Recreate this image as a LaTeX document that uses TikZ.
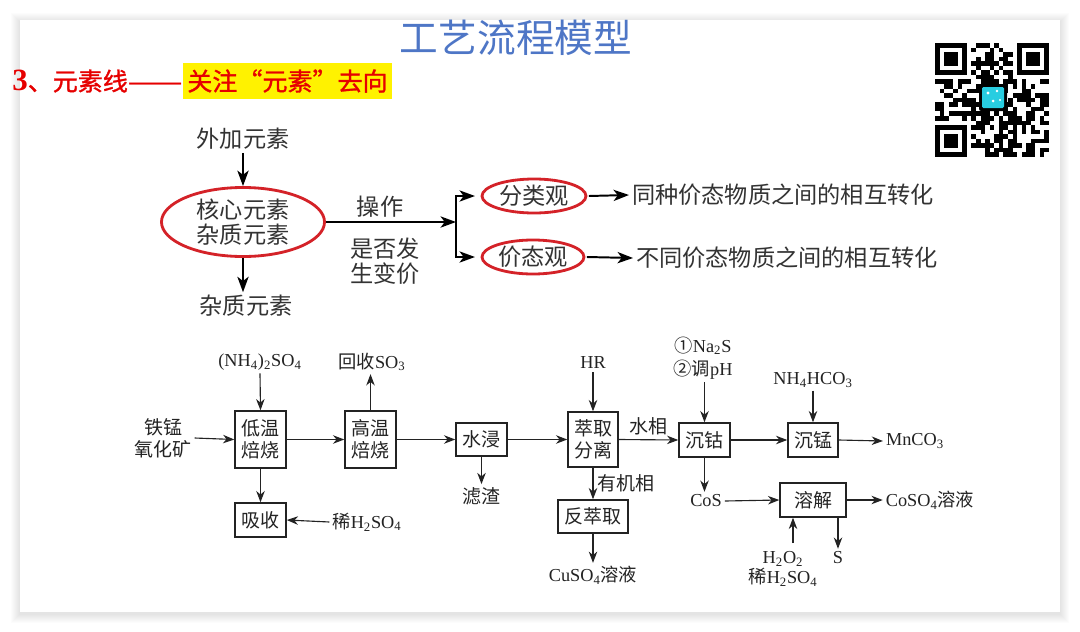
\documentclass[tikz,border=0pt]{standalone}
\usepackage{fontspec}
\setmainfont{Liberation Serif}
\newfontfamily\cjk{Noto Sans CJK SC}
\newfontfamily\cjkb[FakeBold=1.2]{Noto Sans CJK SC}
\usetikzlibrary{arrows.meta,shapes.geometric}
\definecolor{txt}{RGB}{51,51,51}
\definecolor{ellred}{RGB}{212,34,40}
\definecolor{ttlblue}{RGB}{78,118,198}
\definecolor{hred}{RGB}{230,0,0}
\definecolor{lc}{RGB}{35,35,35}
\definecolor{qrcyan}{RGB}{40,205,225}
\newcommand\chsub[1]{\textsubscript{#1}}
\newcommand\zh[1]{{\cjk #1}}
\begin{document}
\begin{tikzpicture}[x=0.025cm,y=-0.025cm,
  ttext/.style={font=\cjk\fontsize{16.5}{17.5}\selectfont, text=txt, inner sep=2pt, align=center},
  tarr/.style={line width=1.4pt, draw=black, -{Stealth[length=11pt,width=8pt,inset=3pt]}},
  redell/.style={ellipse, draw=ellred, line width=2pt, inner sep=0pt, font=\cjk\fontsize{16.5}{17.5}\selectfont, text=txt, align=center},
  btext/.style={font=\fontsize{13}{15.5}\selectfont, text=lc, inner sep=2pt, align=center},
  bbox/.style={draw=lc, line width=1pt, inner sep=0pt, font=\cjk\fontsize{13.5}{15.5}\selectfont, text=lc, align=center},
  arr/.style={draw=lc, line width=0.8pt, -{Stealth[length=8pt,width=6pt,inset=2.5pt]}},
]
\useasboundingbox (0,0) rectangle (1080,632);
\fill[white] (0,0) rectangle (1080,632);
\foreach \k in {1,...,9}{
  \fill[black, opacity=0.011] (20-\k,20-\k+2) rectangle (1060+\k,612+\k+2);
}
\fill[white] (20,20) rectangle (1060,612);

% title and heading
\node[font=\cjk\fontsize{27.5}{28}\selectfont, text=ttlblue, inner sep=0pt] (title) at (516,38) {工艺流程模型};
\node[fill=yellow, inner sep=0pt, minimum width=5.225cm, minimum height=0.9cm, text=hred, font=\cjkb\fontsize{17.8}{18}\selectfont] (h2) at (287.5,81) {关注“元素”去向};
\node[anchor=base east, inner sep=0pt, text=hred, font=\cjkb\fontsize{17.8}{18}\selectfont] (h1) at (h2.base west) {{\rmfamily\bfseries\fontsize{22}{22}\selectfont 3}、元素线\scalebox{1.3}[1]{——}};

% QR code
\begin{scope}
\pgfmathsetseed{23}
\def\qm{4.56}
\foreach \i in {0,...,24}{\foreach \j in {0,...,24}{
  \pgfmathtruncatemacro\qk{((\i<8)&&(\j<8))||((\i>16)&&(\j<8))||((\i<8)&&(\j>16))||((\i>9)&&(\i<15)&&(\j>8)&&(\j<15))}
  \pgfmathrandominteger{\qr}{0}{99}
  \ifnum\qk=0 \ifnum\qr<54 \fill (935+\i*\qm,43+\j*\qm) rectangle ++(\qm,\qm); \fi\fi
}}
\foreach \qx/\qy in {935/43, 1017.08/43, 935/125.08}{
  \fill (\qx,\qy) rectangle ++(31.92,31.92);
  \fill[white] (\qx+4.56,\qy+4.56) rectangle ++(22.8,22.8);
  \fill (\qx+9.12,\qy+9.12) rectangle ++(13.68,13.68);
}
\fill[black, rounded corners=1.5pt] (979,84) rectangle (1007,111);
\fill[qrcyan, rounded corners=1pt] (982,87) rectangle (1004,108);
\fill[white] (988,93) circle (1.6) (997,91) circle (1.3) (993,101) circle (1.5) (1000,100) circle (1.2);
\end{scope}

% ---------- top diagram ----------
\node[ttext] (wj) at (243,139) {外加元素};
\node[redell, minimum width=4.075cm, minimum height=1.725cm] (core) at (243,222) {核心元素\\杂质元素};
\node[ttext] (zz) at (246,306) {杂质元素};
\draw[tarr] (wj.south) -- (core.north);
\draw[tarr] (core.south) -- (core.south |- zz.north);
\coordinate (br) at (456,222);
\draw[tarr] (core.east) -- (br);
\node[ttext] (cz) at (380,207) {操作};
\node[ttext] (sf) at (385,261) {是否发\\生变价};
\node[redell, minimum width=2.6cm, minimum height=0.85cm] (fl) at (534,196) {分类观};
\node[redell, minimum width=2.55cm, minimum height=0.85cm] (jt) at (533,257) {价态观};
\draw[tarr, shorten >=4pt] (br) |- (fl.west);
\draw[tarr, shorten >=4pt] (br) |- (jt.west);
\node[ttext, anchor=west] (t1) at (629,195) {同种价态物质之间的相互转化};
\node[ttext, anchor=west] (t2) at (633,258) {不同价态物质之间的相互转化};
\draw[tarr] ([xshift=1pt]fl.east) -- (t1.west);
\draw[tarr] ([xshift=1pt]jt.east) -- (t2.west);

% ---------- bottom flow chart ----------
\node[bbox, minimum width=1.275cm, minimum height=1.425cm] (dw) at (260.5,439.5) {低温\\焙烧};
\node[bbox, minimum width=1.275cm, minimum height=1.425cm] (gw) at (370.5,439.5) {高温\\焙烧};
\node[bbox, minimum width=1.275cm, minimum height=0.825cm] (sj) at (481.5,439.5) {水浸};
\node[bbox, minimum width=1.275cm, minimum height=0.85cm] (xs) at (260.5,520) {吸收};
\node[bbox, minimum width=1.25cm, minimum height=1.375cm] (cq) at (593,439.5) {萃取\\分离};
\node[bbox, minimum width=1.75cm, minimum height=0.825cm] (fcq) at (593,516.5) {反萃取};
\node[bbox, minimum width=1.275cm, minimum height=0.85cm] (cg) at (704.5,440) {沉钴};
\node[bbox, minimum width=1.25cm, minimum height=0.85cm] (cm) at (813,440) {沉锰};
\node[bbox, minimum width=1.65cm, minimum height=0.85cm] (rj) at (813,500) {溶解};

\node[btext] (nh) at (260,362) {(NH\chsub{4})\chsub{2}SO\chsub{4}};
\node[btext, font=\cjk\fontsize{13.5}{15.5}\selectfont] (ore) at (163,438) {铁锰\\氧化矿};
\node[btext] (hs) at (372,362) {\zh{回收}SO\chsub{3}};
\node[btext, font=\cjk\fontsize{13.5}{15.5}\selectfont] (lz) at (481,496) {滤渣};
\node[btext] (xh) at (367,522) {\zh{稀}H\chsub{2}SO\chsub{4}};
\node[btext] (hr) at (593,363) {HR};
\node[btext, font=\fontsize{13}{16.5}\selectfont] (na) at (703,358) {\zh{①}Na\chsub{2}S\\\zh{②调}pH};
\node[btext] (cu) at (593,575) {CuSO\chsub{4}\zh{溶液}};
\node[btext] (cos) at (706,501) {CoS};
\node[btext] (nhc) at (813,380) {NH\chsub{4}HCO\chsub{3}};
\node[btext] (mn) at (915,441) {MnCO\chsub{3}};
\node[btext] (coso) at (930,500) {CoSO\chsub{4}\zh{溶液}};
\node[btext, font=\fontsize{13}{14.5}\selectfont] (hh) at (783,569) {H\chsub{2}O\chsub{2}\\\zh{稀}H\chsub{2}SO\chsub{4}};
\node[btext] (s) at (838,558) {S};
\coordinate (hin) at (793,543);

\draw[arr] (nh.south) -- (dw.north);
\draw[arr] (ore.east) -- (dw.west);
\draw[arr] (dw.east) -- (gw.west);
\draw[arr] (gw.north) -- (gw.north |- hs.south);
\draw[arr] (gw.east) -- (sj.west);
\draw[arr] (sj.south) -- (sj.south |- lz.north);
\draw[arr] (dw.south) -- (xs.north);
\draw[arr] (xh.west) -- (xs.east);
\draw[arr] (sj.east) -- (cq.west);
\draw[arr] (hr.south) -- (cq.north);
\draw[arr] (cq.east) -- node[above=1pt, btext, font=\cjk\fontsize{13.5}{15.5}\selectfont] (sx) {水相} (cg.west);
\draw[arr] (na.south -| cg.north) -- (cg.north);
\draw[arr] (cq.south) -- node[right, btext, font=\cjk\fontsize{13.5}{15.5}\selectfont, xshift=1pt] (yj) {有机相} (fcq.north);
\draw[arr] (fcq.south) -- (cu.north);
\draw[arr] (cg.south) -- (cg.south |- cos.north);
\draw[arr] (cg.east) -- (cm.west);
\draw[arr] (nhc.south) -- (cm.north);
\draw[arr] (cm.east) -- (mn.west);
\draw[arr] (cos.east) -- (rj.west);
\draw[arr] (rj.east) -- (coso.west);
\draw[arr] (hin) -- (hin |- rj.south);
\draw[arr] (s |- rj.south) -- (s.north);
\end{tikzpicture}
\end{document}
